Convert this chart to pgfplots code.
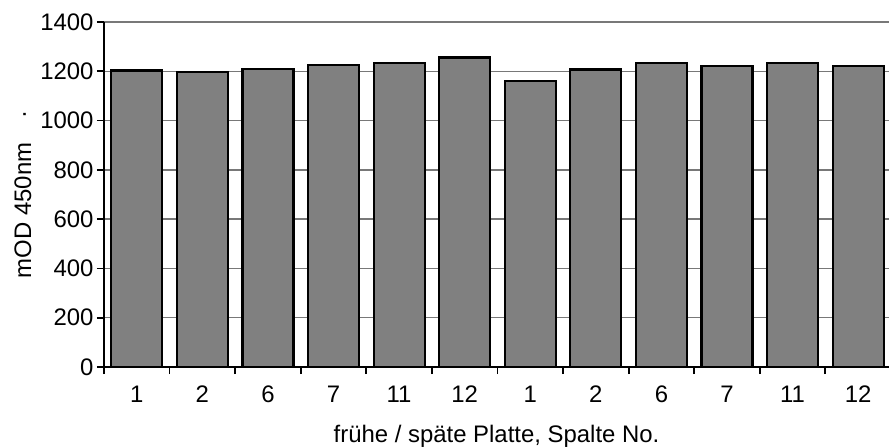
\documentclass[border=0pt]{standalone}
\usepackage{fontspec}
\setmainfont{Liberation Sans}
\usepackage{pgfplots}
\pgfplotsset{compat=1.18}
\definecolor{barfill}{RGB}{128,128,128}
\definecolor{gridgray}{RGB}{120,120,120}
\begin{document}
\begin{tikzpicture}
\useasboundingbox (0,0) rectangle (889bp,448bp);
\begin{axis}[
  at={(104bp,81bp)}, anchor=south west,
  scale only axis, width=785bp, height=345bp,
  xmin=-0.5, xmax=11.47, ymin=0, ymax=1400,
  axis x line=bottom, axis y line=left,
  axis line style={-, black, line width=2bp},
  xtick={0,...,11},
  xticklabels={1,2,6,7,11,12,1,2,6,7,11,12},
  minor xtick={-0.5,0.5,...,10.5},
  major x tick style={draw=none},
  minor x tick style={black, line width=1.8bp},
  minor tick length=7bp,
  ytick={0,200,...,1400},
  y tick style={black, line width=1.8bp},
  major tick length=7bp,
  tick align=outside,
  ymajorgrids,
  major grid style={gridgray, line width=1.3bp},
  font=\fontsize{24}{28}\selectfont,
  tick label style={font=\fontsize{24}{28}\selectfont},
  xticklabel style={text height=17bp, text depth=0bp, anchor=north, yshift=-8bp},
  /pgf/number format/assume math mode=true,
  /pgf/number format/1000 sep={},
  xlabel={frühe / späte Platte, Spalte No.},
  ylabel={mOD 450nm\hspace{1em}·},
  ylabel style={yshift=2bp},
  xlabel style={yshift=-16bp},
  ybar, bar width=51bp,
]
\addplot[fill=barfill, draw=black, line width=2.2bp] coordinates {
  (0,1203) (1,1197) (2,1210) (3,1225) (4,1233) (5,1256)
  (6,1160) (7,1207) (8,1235) (9,1223) (10,1233) (11,1222)
};
\end{axis}
\end{tikzpicture}
\end{document}
